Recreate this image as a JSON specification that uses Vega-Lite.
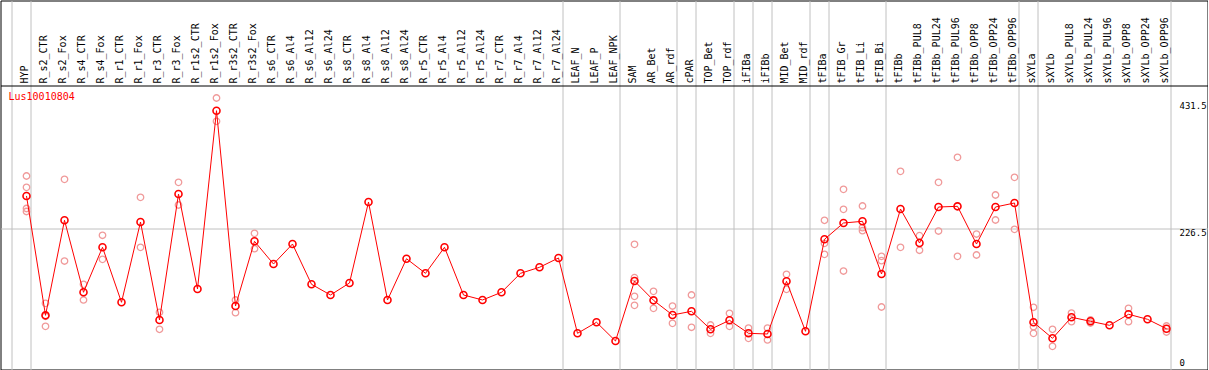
{
  "$schema": "https://vega.github.io/schema/vega-lite/v6.json",
  "width": 1207,
  "height": 369,
  "autosize": {"type": "none"},
  "padding": {"left": 0.5, "top": 0.5, "right": 0, "bottom": 0},
  "background": "#ffffff",
  "config": {"view": {"stroke": "#000000", "strokeWidth": 1}},
  "datasets": {
    "means": [
      {"i":0,"sample":"HYP","value":283.1},
      {"i":1,"sample":"R_s2_CTR","value":75.4},
      {"i":2,"sample":"R_s2_Fox","value":240.8},
      {"i":3,"sample":"R_s4_CTR","value":115.5},
      {"i":4,"sample":"R_s4_Fox","value":193.8},
      {"i":5,"sample":"R_r1_CTR","value":98.1},
      {"i":6,"sample":"R_r1_Fox","value":237.8},
      {"i":7,"sample":"R_r3_CTR","value":67.3},
      {"i":8,"sample":"R_r3_Fox","value":286.5},
      {"i":9,"sample":"R_r1s2_CTR","value":121.2},
      {"i":10,"sample":"R_r1s2_Fox","value":431.5},
      {"i":11,"sample":"R_r3s2_CTR","value":91.6},
      {"i":12,"sample":"R_r3s2_Fox","value":204.2},
      {"i":13,"sample":"R_s6_CTR","value":164.7},
      {"i":14,"sample":"R_s6_Al4","value":199.5},
      {"i":15,"sample":"R_s6_Al12","value":129.4},
      {"i":16,"sample":"R_s6_Al24","value":110.8},
      {"i":17,"sample":"R_s8_CTR","value":131.7},
      {"i":18,"sample":"R_s8_Al4","value":272.6},
      {"i":19,"sample":"R_s8_Al12","value":102.1},
      {"i":20,"sample":"R_s8_Al24","value":173.9},
      {"i":21,"sample":"R_r5_CTR","value":148.5},
      {"i":22,"sample":"R_r5_Al4","value":193.8},
      {"i":23,"sample":"R_r5_Al12","value":110.8},
      {"i":24,"sample":"R_r5_Al24","value":102.1},
      {"i":25,"sample":"R_r7_CTR","value":115.5},
      {"i":26,"sample":"R_r7_Al4","value":148.5},
      {"i":27,"sample":"R_r7_Al12","value":159.0},
      {"i":28,"sample":"R_r7_Al24","value":175.2},
      {"i":29,"sample":"LEAF_N","value":44.1},
      {"i":30,"sample":"LEAF_P","value":63.3},
      {"i":31,"sample":"LEAF_NPK","value":30.7},
      {"i":32,"sample":"SAM","value":135.1},
      {"i":33,"sample":"AR_Bet","value":101.5},
      {"i":34,"sample":"AR_rdf","value":76.0},
      {"i":35,"sample":"cPAR","value":82.4},
      {"i":36,"sample":"TOP_Bet","value":51.1},
      {"i":37,"sample":"TOP_rdf","value":66.7},
      {"i":38,"sample":"iFIBa","value":44.1},
      {"i":39,"sample":"iFIBb","value":42.9},
      {"i":40,"sample":"MID_Bet","value":134.6},
      {"i":41,"sample":"MID_rdf","value":47.6},
      {"i":42,"sample":"tFIBa","value":207.7},
      {"i":43,"sample":"tFIB_Gr","value":236.1},
      {"i":44,"sample":"tFIB_Li","value":239.0},
      {"i":45,"sample":"tFIB_Bi","value":147.3},
      {"i":46,"sample":"tFIBb","value":260.4},
      {"i":47,"sample":"tFIBb_PUL8","value":201.3},
      {"i":48,"sample":"tFIBb_PUL24","value":263.9},
      {"i":49,"sample":"tFIBb_PUL96","value":265.1},
      {"i":50,"sample":"tFIBb_OPP8","value":199.5},
      {"i":51,"sample":"tFIBb_OPP24","value":263.9},
      {"i":52,"sample":"tFIBb_OPP96","value":270.9},
      {"i":53,"sample":"sXYLa","value":63.3},
      {"i":54,"sample":"sXYLb","value":35.4},
      {"i":55,"sample":"sXYLb_PUL8","value":72.0},
      {"i":56,"sample":"sXYLb_PUL24","value":65.0},
      {"i":57,"sample":"sXYLb_PUL96","value":58.0},
      {"i":58,"sample":"sXYLb_OPP8","value":77.2},
      {"i":59,"sample":"sXYLb_OPP24","value":68.5},
      {"i":60,"sample":"sXYLb_OPP96","value":52.1}
    ],
    "reps": [
      {"i":0,"value":317.9},{"i":0,"value":298.2},{"i":0,"value":261.3},{"i":0,"value":256.1},
      {"i":1,"value":96.3},{"i":1,"value":56.3},{"i":1,"value":73.6},
      {"i":2,"value":312.1},{"i":2,"value":169.9},
      {"i":3,"value":129.4},{"i":3,"value":102.1},
      {"i":4,"value":214.7},{"i":4,"value":172.9},
      {"i":6,"value":280.8},{"i":6,"value":193.8},
      {"i":7,"value":80.7},{"i":7,"value":51.1},
      {"i":8,"value":306.9},{"i":8,"value":267.4},
      {"i":10,"value":453.6},{"i":10,"value":413.1},
      {"i":11,"value":102.1},{"i":11,"value":80.0},
      {"i":12,"value":218.1},{"i":12,"value":191.3},
      {"i":32,"value":199.0},{"i":32,"value":140.9},{"i":32,"value":108.5},{"i":32,"value":92.8},
      {"i":33,"value":117.2},{"i":33,"value":87.6},
      {"i":34,"value":91.6},{"i":34,"value":61.5},
      {"i":35,"value":110.8},{"i":35,"value":54.6},
      {"i":36,"value":58.6},{"i":36,"value":44.1},
      {"i":37,"value":78.9},{"i":37,"value":56.3},
      {"i":38,"value":53.3},{"i":38,"value":35.4},
      {"i":39,"value":53.3},{"i":39,"value":32.5},
      {"i":40,"value":146.8},{"i":40,"value":120.7},
      {"i":42,"value":240.8},{"i":42,"value":200.7},{"i":42,"value":181.6},
      {"i":43,"value":294.7},{"i":43,"value":259.9},{"i":43,"value":152.5},
      {"i":44,"value":265.7},{"i":44,"value":227.9},{"i":44,"value":222.7},
      {"i":45,"value":178.1},{"i":45,"value":170.5},{"i":45,"value":89.9},
      {"i":46,"value":326.0},{"i":46,"value":193.8},
      {"i":47,"value":214.0},{"i":47,"value":188.6},
      {"i":48,"value":306.9},{"i":48,"value":222.1},
      {"i":49,"value":350.4},{"i":49,"value":178.1},
      {"i":50,"value":216.9},{"i":50,"value":180.4},
      {"i":51,"value":284.8},{"i":51,"value":241.3},
      {"i":52,"value":315.6},{"i":52,"value":225.1},
      {"i":53,"value":89.4},{"i":53,"value":55.6},{"i":53,"value":44.1},
      {"i":54,"value":51.1},{"i":54,"value":21.5},
      {"i":55,"value":79.4},{"i":55,"value":64.3},
      {"i":56,"value":67.3},{"i":56,"value":62.0},
      {"i":58,"value":87.6},{"i":58,"value":64.3},
      {"i":60,"value":56.8},{"i":60,"value":46.4}
    ]
  },
  "layer": [
    {
      "encoding": {
        "x": {
          "field": "i",
          "type": "quantitative",
          "scale": {"domain": [-1.368421, 62.157895], "nice": false, "zero": false},
          "axis": {
            "orient": "top", "title": null, "domain": false, "ticks": false, "tickSize": 0,
            "values": [-1,0,1,2,3,4,5,6,7,8,9,10,11,12,13,14,15,16,17,18,19,20,21,22,23,24,25,26,27,28,29,30,31,32,33,34,35,36,37,38,39,40,41,42,43,44,45,46,47,48,49,50,51,52,53,54,55,56,57,58,59,60],
            "tickOffset": 4, "labelOffset": -6.3, "labelAngle": -90, "labelAlign": "left", "labelBaseline": "middle",
            "labelPadding": -82.5, "labelFont": "DejaVu Sans Mono", "labelFontSize": 10, "labelColor": "#000000",
            "labelOverlap": false, "labelFlush": false, "labelLimit": 200,
            "labelExpr": "datum.value < 0 ? '' : ['HYP','R_s2_CTR','R_s2_Fox','R_s4_CTR','R_s4_Fox','R_r1_CTR','R_r1_Fox','R_r3_CTR','R_r3_Fox','R_r1s2_CTR','R_r1s2_Fox','R_r3s2_CTR','R_r3s2_Fox','R_s6_CTR','R_s6_Al4','R_s6_Al12','R_s6_Al24','R_s8_CTR','R_s8_Al4','R_s8_Al12','R_s8_Al24','R_r5_CTR','R_r5_Al4','R_r5_Al12','R_r5_Al24','R_r7_CTR','R_r7_Al4','R_r7_Al12','R_r7_Al24','LEAF_N','LEAF_P','LEAF_NPK','SAM','AR_Bet','AR_rdf','cPAR','TOP_Bet','TOP_rdf','iFIBa','iFIBb','MID_Bet','MID_rdf','tFIBa','tFIB_Gr','tFIB_Li','tFIB_Bi','tFIBb','tFIBb_PUL8','tFIBb_PUL24','tFIBb_PUL96','tFIBb_OPP8','tFIBb_OPP24','tFIBb_OPP96','sXYLa','sXYLb','sXYLb_PUL8','sXYLb_PUL24','sXYLb_PUL96','sXYLb_OPP8','sXYLb_OPP24','sXYLb_OPP96'][datum.value]",
            "grid": true, "gridColor": "#c0c0c0", "gridWidth": 1,
            "gridOpacity": {"condition": {"test": "indexof([-1,0,28,31,34,35,37,38,39,41,42,45,52,53,60], datum.value) >= 0", "value": 1}, "value": 0}
          }
        },
        "y": {
          "field": "value",
          "type": "quantitative",
          "scale": {"domain": [-18.883, 623.31], "nice": false, "zero": false},
          "axis": {
            "orient": "right", "title": null, "domain": false, "ticks": false, "tickSize": 0,
            "values": [0, 226.5, 431.5, 475.37],
            "labelPadding": -28.5, "labelAlign": "left",
            "labelBaseline": {"condition": {"test": "datum.value == 431.5", "value": "bottom"}, "value": "top"},
            "labelFont": "DejaVu Sans Mono", "labelFontSize": 9, "labelColor": "#000000",
            "labelOverlap": false, "labelFlush": false,
            "labelExpr": "datum.value == 0 ? '0' : datum.value == 226.5 ? '226.5' : datum.value == 431.5 ? '431.5' : ''",
            "grid": true, "gridWidth": 1,
            "gridColor": {"condition": {"test": "datum.value > 470", "value": "#000000"}, "value": "#c0c0c0"},
            "gridOpacity": {"condition": {"test": "datum.value == 226.5 || datum.value > 470", "value": 1}, "value": 0}
          }
        }
      },
      "layer": [
        {
          "data": {"name": "reps"},
          "mark": {"type": "point", "shape": "circle", "filled": false, "color": "#f09a9a", "strokeWidth": 1.3, "size": 42, "opacity": 1}
        },
        {
          "data": {"name": "means"},
          "mark": {"type": "line", "color": "#ff0000", "strokeWidth": 1}
        },
        {
          "data": {"name": "means"},
          "mark": {"type": "point", "shape": "circle", "filled": false, "color": "#ff0000", "strokeWidth": 1.6, "size": 49, "opacity": 1}
        }
      ]
    },
    {
      "data": {"values": [{"label": "Lus10010804"}]},
      "mark": {"type": "text", "align": "left", "baseline": "middle", "font": "DejaVu Sans Mono", "fontSize": 10, "color": "#ff0000"},
      "encoding": {
        "x": {
          "datum": -0.947,
          "type": "quantitative",
          "axis": {
            "orient": "top", "title": null, "domain": false, "ticks": false, "tickSize": 0,
            "values": [-1,0,1,2,3,4,5,6,7,8,9,10,11,12,13,14,15,16,17,18,19,20,21,22,23,24,25,26,27,28,29,30,31,32,33,34,35,36,37,38,39,40,41,42,43,44,45,46,47,48,49,50,51,52,53,54,55,56,57,58,59,60],
            "tickOffset": 4, "labelOffset": -6.3, "labelAngle": -90, "labelAlign": "left", "labelBaseline": "middle",
            "labelPadding": -82.5, "labelFont": "DejaVu Sans Mono", "labelFontSize": 10, "labelColor": "#000000",
            "labelOverlap": false, "labelFlush": false, "labelLimit": 200,
            "labelExpr": "datum.value < 0 ? '' : ['HYP','R_s2_CTR','R_s2_Fox','R_s4_CTR','R_s4_Fox','R_r1_CTR','R_r1_Fox','R_r3_CTR','R_r3_Fox','R_r1s2_CTR','R_r1s2_Fox','R_r3s2_CTR','R_r3s2_Fox','R_s6_CTR','R_s6_Al4','R_s6_Al12','R_s6_Al24','R_s8_CTR','R_s8_Al4','R_s8_Al12','R_s8_Al24','R_r5_CTR','R_r5_Al4','R_r5_Al12','R_r5_Al24','R_r7_CTR','R_r7_Al4','R_r7_Al12','R_r7_Al24','LEAF_N','LEAF_P','LEAF_NPK','SAM','AR_Bet','AR_rdf','cPAR','TOP_Bet','TOP_rdf','iFIBa','iFIBb','MID_Bet','MID_rdf','tFIBa','tFIB_Gr','tFIB_Li','tFIB_Bi','tFIBb','tFIBb_PUL8','tFIBb_PUL24','tFIBb_PUL96','tFIBb_OPP8','tFIBb_OPP24','tFIBb_OPP96','sXYLa','sXYLb','sXYLb_PUL8','sXYLb_PUL24','sXYLb_PUL96','sXYLb_OPP8','sXYLb_OPP24','sXYLb_OPP96'][datum.value]",
            "grid": true, "gridColor": "#c0c0c0", "gridWidth": 1,
            "gridOpacity": {"condition": {"test": "indexof([-1,0,28,31,34,35,37,38,39,41,42,45,52,53,60], datum.value) >= 0", "value": 1}, "value": 0}
          }
        },
        "y": {
          "datum": 454.5,
          "type": "quantitative",
          "axis": {
            "orient": "right", "title": null, "domain": false, "ticks": false, "tickSize": 0,
            "values": [0, 226.5, 431.5, 475.37],
            "labelPadding": -28.5, "labelAlign": "left",
            "labelBaseline": {"condition": {"test": "datum.value == 431.5", "value": "bottom"}, "value": "top"},
            "labelFont": "DejaVu Sans Mono", "labelFontSize": 9, "labelColor": "#000000",
            "labelOverlap": false, "labelFlush": false,
            "labelExpr": "datum.value == 0 ? '0' : datum.value == 226.5 ? '226.5' : datum.value == 431.5 ? '431.5' : ''",
            "grid": true, "gridWidth": 1,
            "gridColor": {"condition": {"test": "datum.value > 470", "value": "#000000"}, "value": "#c0c0c0"},
            "gridOpacity": {"condition": {"test": "datum.value == 226.5 || datum.value > 470", "value": 1}, "value": 0}
          }
        },
        "text": {"field": "label", "type": "nominal"}
      }
    }
  ]
}
